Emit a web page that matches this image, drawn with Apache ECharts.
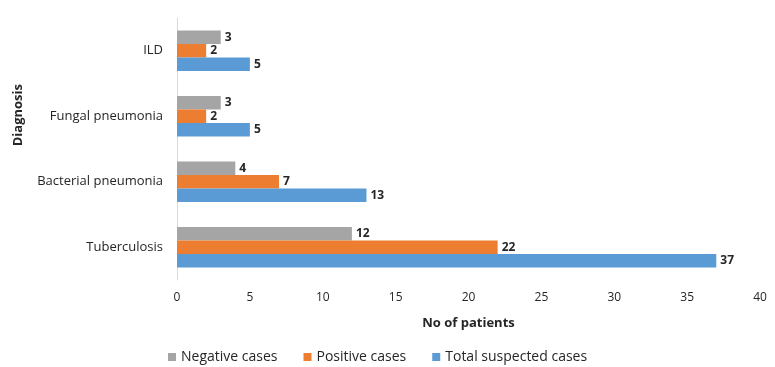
<!DOCTYPE html>
<html>
<head>
<meta charset="utf-8">
<script src="https://cdn.jsdelivr.net/npm/echarts@6/dist/echarts.min.js"></script>
<style>
  html, body { margin: 0; padding: 0; background: #fff; }
  #chart { width: 775px; height: 367px; }
</style>
</head>
<body>
<div id="chart"></div>
<script>
// Diagnoses, listed bottom to top
const categories = ['Tuberculosis', 'Bacterial pneumonia', 'Fungal pneumonia', 'ILD'];
const negativeCases = [12, 4, 3, 3];
const positiveCases = [22, 7, 2, 2];
const totalSuspected = [37, 13, 5, 5];
const xTicks = [0, 5, 10, 15, 20, 25, 30, 35, 40];

const FONT = 'Open Sans';
const TEXT = '#262626';

const labelStyle = {
  show: true,
  position: 'right',
  distance: 4,
  color: TEXT,
  fontFamily: FONT,
  fontSize: 12,
  fontWeight: 'bold'
};

const chart = echarts.init(document.getElementById('chart'));
chart.setOption({
  animation: false,
  textStyle: { fontFamily: FONT },
  grid: { left: 177, right: 15, top: 18, height: 262, containLabel: false },
  legend: {
    data: ['Negative cases', 'Positive cases', 'Total suspected cases'],
    left: 163,
    top: 345,
    icon: 'rect',
    itemWidth: 8,
    itemHeight: 8,
    itemGap: 26,
    textStyle: { color: TEXT, fontFamily: FONT, fontSize: 14 }
  },
  xAxis: {
    type: 'value',
    min: xTicks[0],
    max: xTicks[xTicks.length - 1],
    interval: 5,
    name: 'No of patients',
    nameLocation: 'middle',
    nameGap: 37,
    nameTextStyle: { color: TEXT, fontFamily: FONT, fontSize: 13, fontWeight: 'bold' },
    axisLine: { show: false },
    axisTick: { show: false },
    splitLine: { show: false },
    axisLabel: { color: TEXT, fontFamily: FONT, fontSize: 12, margin: 12 }
  },
  yAxis: {
    type: 'category',
    data: categories,
    axisLine: { show: true, lineStyle: { color: '#d9d9d9', width: 1 } },
    axisTick: { show: false },
    splitLine: { show: false },
    axisLabel: { color: TEXT, fontFamily: FONT, fontSize: 13, margin: 14 }
  },
  graphic: [{
    type: 'text',
    left: 12,
    top: 84,
    rotation: Math.PI / 2,
    style: {
      text: 'Diagnosis',
      fill: TEXT,
      font: 'bold 13px "Open Sans"'
    }
  }],
  series: [
    {
      name: 'Negative cases',
      type: 'bar',
      data: negativeCases,
      barGap: '0%',
      barCategoryGap: '38%',
      itemStyle: { color: '#A5A5A5' },
      label: labelStyle
    },
    {
      name: 'Positive cases',
      type: 'bar',
      data: positiveCases,
      barGap: '0%',
      barCategoryGap: '38%',
      itemStyle: { color: '#ED7D31' },
      label: labelStyle
    },
    {
      name: 'Total suspected cases',
      type: 'bar',
      data: totalSuspected,
      barGap: '0%',
      barCategoryGap: '38%',
      itemStyle: { color: '#5B9BD5' },
      label: labelStyle
    }
  ]
});
</script>
</body>
</html>
